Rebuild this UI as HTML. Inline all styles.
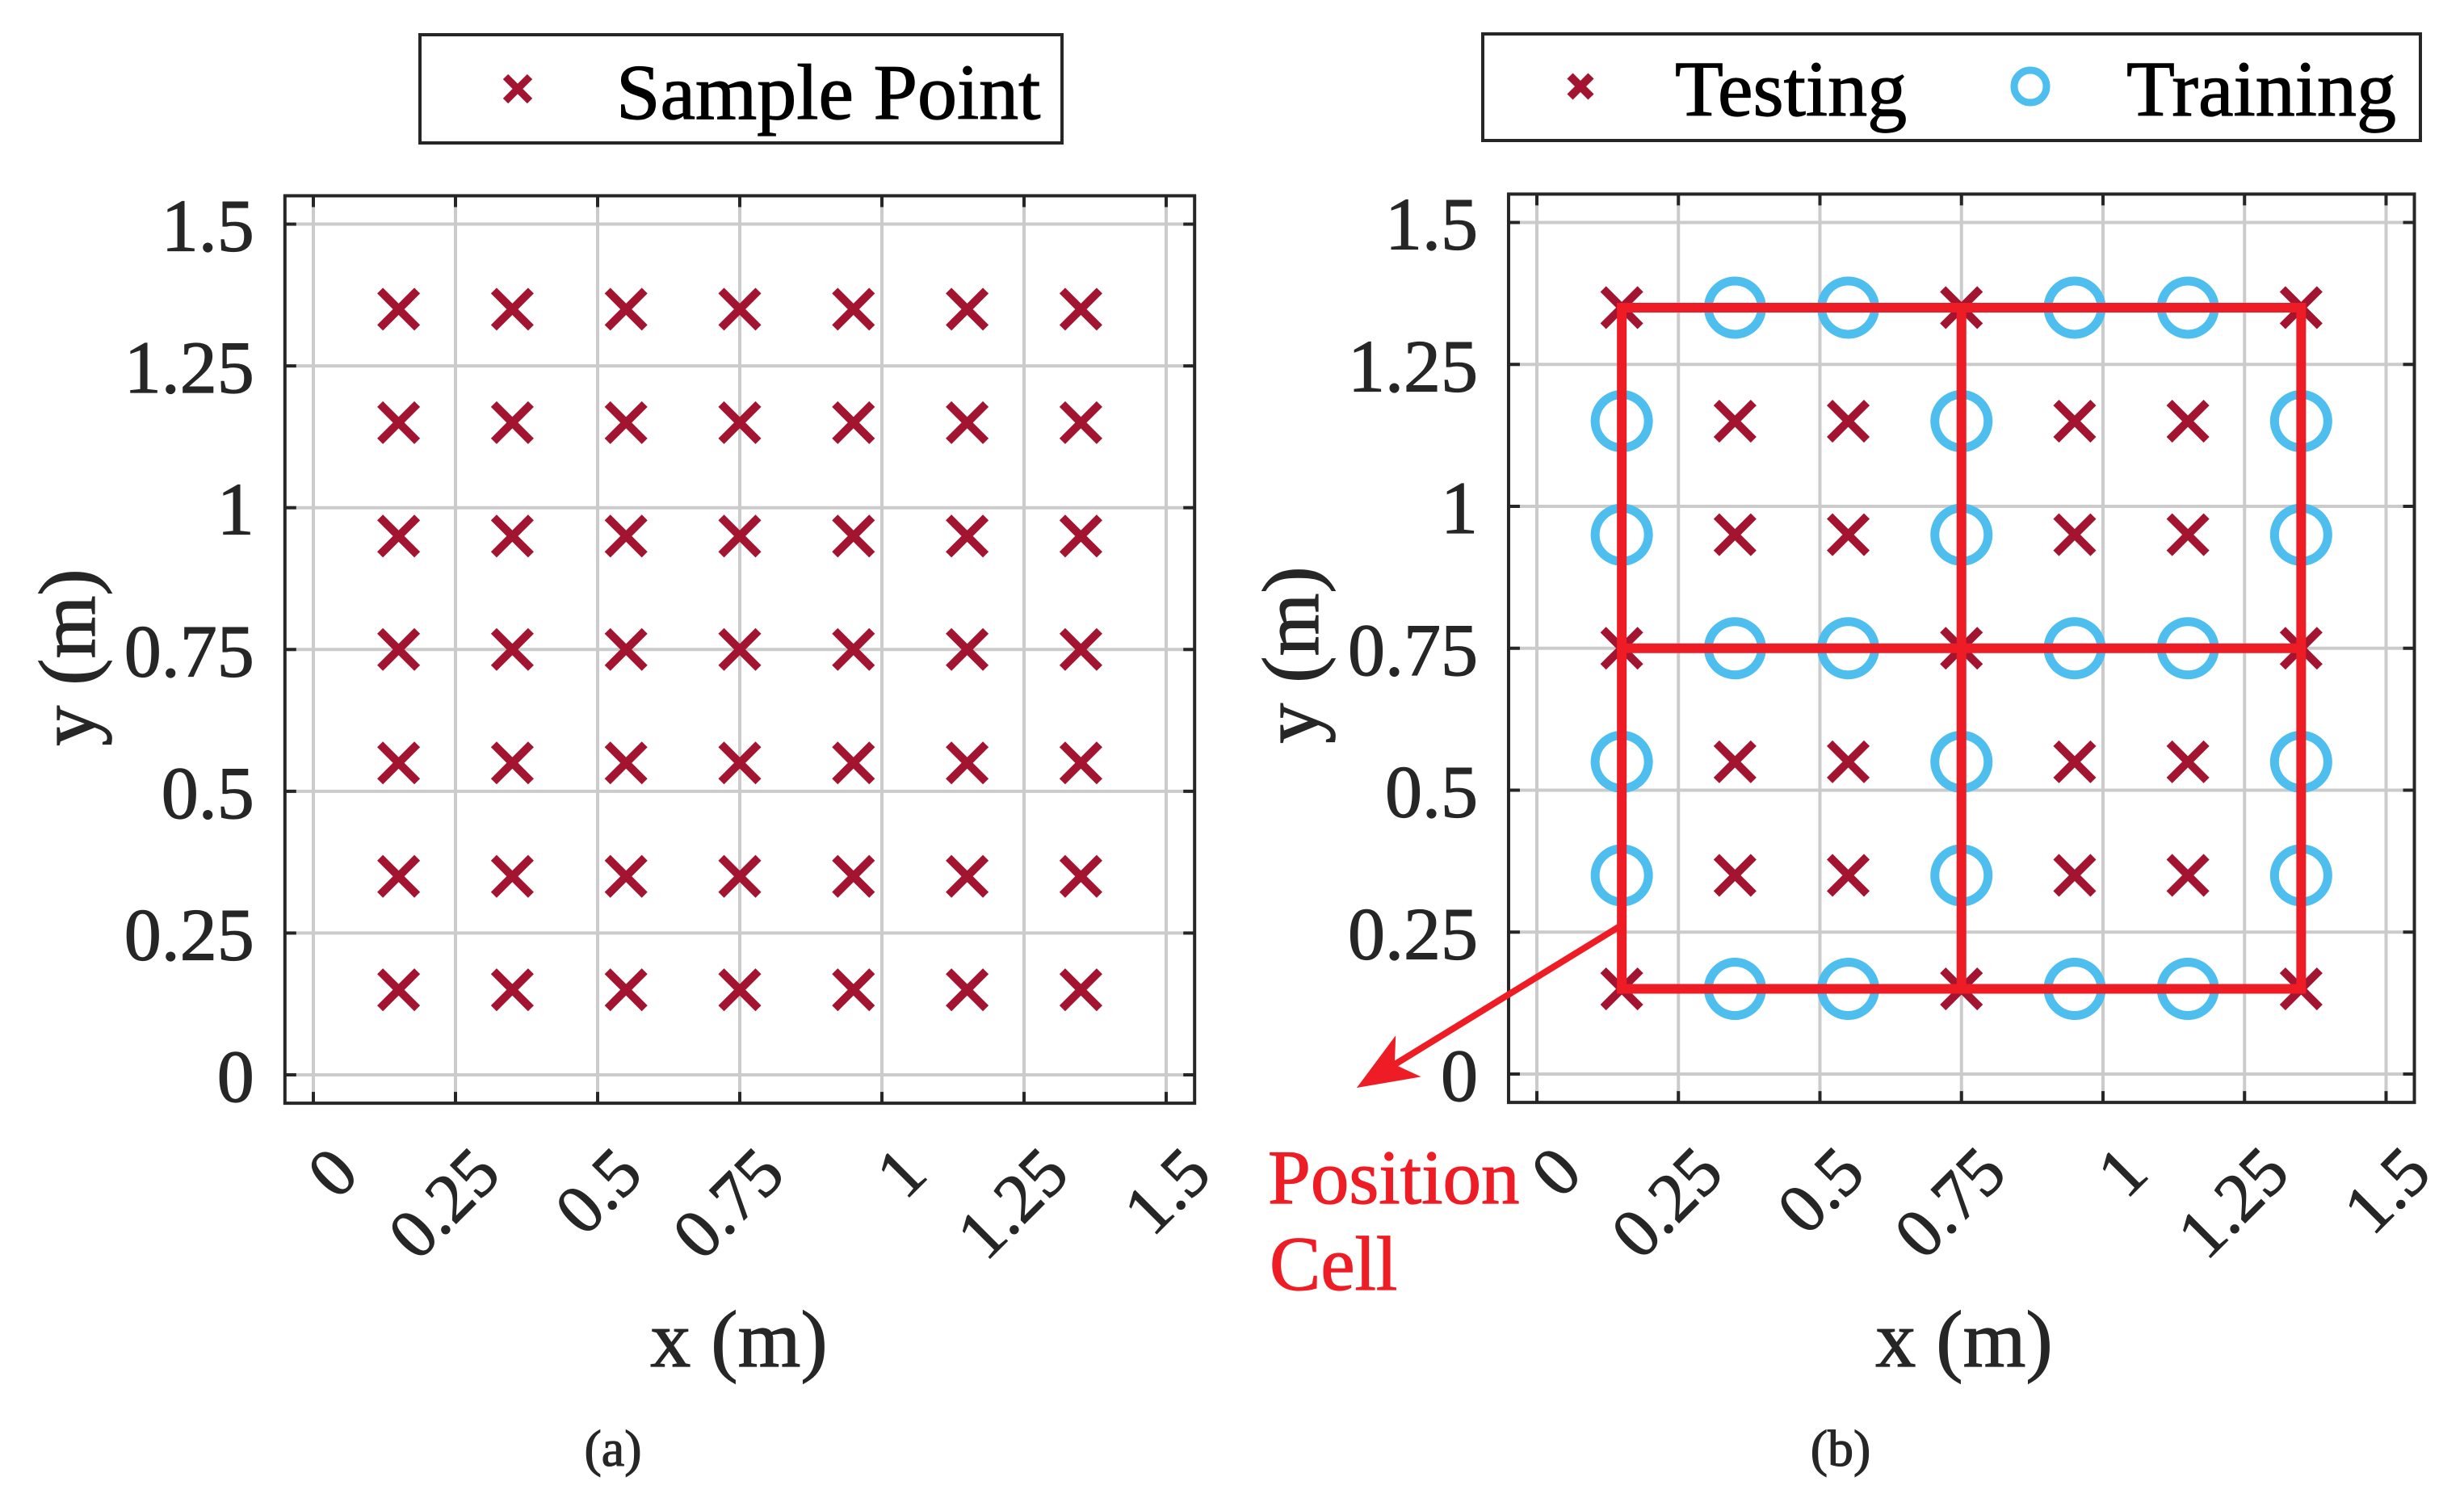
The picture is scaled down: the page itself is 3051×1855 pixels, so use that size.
<!DOCTYPE html>
<html>
<head>
<meta charset="utf-8">
<style>
  html,body{margin:0;padding:0;background:#fff;}
  svg{display:block;}
  text{font-family:"Liberation Serif","Times New Roman",serif;stroke-width:1.2px;}
</style>
</head>
<body>
<svg id="fig" width="3051" height="1855" viewBox="0 0 3051 1855" xmlns="http://www.w3.org/2000/svg"></svg>
<script>
// ---- data ----
const tickValues = [0, 0.25, 0.5, 0.75, 1, 1.25, 1.5];
const tickLabels = ["0", "0.25", "0.5", "0.75", "1", "1.25", "1.5"];
const gridX = [0.15, 0.35, 0.55, 0.75, 0.95, 1.15, 1.35];
const gridY = [0.15, 0.35, 0.55, 0.75, 0.95, 1.15, 1.35];
// panel (b) pattern, rows from top (y=1.35) to bottom (y=0.15): x = testing, o = training
const patternB = [
  "xooxoox",
  "oxxoxxo",
  "oxxoxxo",
  "xooxoox",
  "oxxoxxo",
  "oxxoxxo",
  "xooxoox"
];
const cellX = [0.15, 0.75, 1.35];
const cellY = [0.15, 0.75, 1.35];

const NS = "http://www.w3.org/2000/svg";
const svg = document.getElementById("fig");
function mk(tag, attrs, parent) {
  const e = document.createElementNS(NS, tag);
  for (const k in attrs) e.setAttribute(k, attrs[k]);
  (parent || svg).appendChild(e);
  return e;
}
const AX = "#262626", GRID = "#cbcbcb", CROSS = "#A2142F", CIRC = "#4DBEEE", RED = "#EE1C25";

function makeAxes(p, id) {
  const g = mk("g", {});
  
  
  const sx = v => p.x0 + (v) * p.kx;
  const sy = v => p.y0 - (v) * p.ky;
  const L = sx(-0.05), R = sx(1.55), T = sy(1.55), B = sy(-0.05);
  tickValues.forEach(v => {
    const gl = mk("line", {x1: sx(v), x2: sx(v), y1: T, y2: B, stroke: GRID, "stroke-width": 4}, g);
    
    
    const gh = mk("line", {x1: L, x2: R, y1: sy(v), y2: sy(v), stroke: GRID, "stroke-width": 4}, g);
    
    
  });
  return {g, sx, sy, L, R, T, B};
}
function finishAxes(A, id, p) {
  const {g, sx, sy, L, R, T, B} = A;
  const fr = mk("rect", {x: L, y: T, width: R - L, height: B - T, fill: "none", stroke: AX, "stroke-width": 4}, svg);
  
  
  tickValues.forEach((v, i) => {
    const x = sx(v), y = sy(v);
    [[x, B, x, B - 14], [x, T, x, T + 14], [L, y, L + 14, y], [R, y, R - 14, y]].forEach(c => {
      const t = mk("line", {x1: c[0], y1: c[1], x2: c[2], y2: c[3], stroke: AX, "stroke-width": 4}, svg);
      
      
    });
    const yl = mk("text", {x: L - 38, y: y + 33, "text-anchor": "end", "font-size": 92, fill: AX, stroke: AX}, svg);
    yl.textContent = tickLabels[i];
    
    
    const ax = x + 59, ay = B + 91;
    const xl = mk("text", {x: ax, y: ay, "text-anchor": "end", "font-size": 86, fill: AX, stroke: AX, transform: `rotate(-45 ${ax} ${ay})`}, svg);
    xl.textContent = tickLabels[i];
    
    
  });
  const xt = mk("text", {x: p.xlabX, y: 1692, "text-anchor": "middle", "font-size": 100, fill: AX, stroke: AX}, svg);
  xt.textContent = "x (m)";
  
  
  const yt = mk("text", {x: p.ylabX, y: p.ylabY, "text-anchor": "middle", "font-size": 100, fill: AX, stroke: AX, transform: `rotate(-90 ${p.ylabX} ${p.ylabY})`}, svg);
  yt.textContent = "y (m)";
  
  
  const cap = mk("text", {x: p.capX, y: 1815, "text-anchor": "middle", "font-size": 64, fill: AX, stroke: AX}, svg);
  cap.textContent = "(" + id + ")";
  
  
}
function cross(x, y, h, sw, parent, name) {
  const c = mk("path", {d: `M${x-h},${y-h}L${x+h},${y+h}M${x-h},${y+h}L${x+h},${y-h}`, stroke: CROSS, "stroke-width": sw, fill: "none"}, parent);
  
  
  return c;
}
function circ(x, y, r, sw, parent, name) {
  const c = mk("circle", {cx: x, cy: y, r: r, stroke: CIRC, "stroke-width": sw, fill: "none"}, parent);
  
  
  return c;
}

// ---- panel (a) ----
const pA = {x0: 388, kx: 704, y0: 1331, ky: 702.3, xlabX: 915, ylabX: 117, ylabY: 814, capX: 759};
const A = makeAxes(pA, "a");
gridY.forEach(yv => gridX.forEach(xv => {
  cross(A.sx(xv), A.sy(yv), 23, 10, A.g, 'sample-point');
}));
finishAxes(A, "a", pA);

const lgA = mk("g", {});


mk("rect", {x: 520, y: 43, width: 795, height: 134, fill: "#fff", stroke: AX, "stroke-width": 4}, lgA);
cross(641, 110, 15, 9, lgA, 'legend-marker-sample');
const ltA = mk("text", {x: 763, y: 147, "font-size": 98, fill: "#000", stroke: "#000"}, lgA);
ltA.textContent = "Sample Point";



// ---- panel (b) ----
const pB = {x0: 1903, kx: 701, y0: 1330, ky: 703, xlabX: 2432, ylabX: 1632, ylabY: 811, capX: 2279};
const Bx = makeAxes(pB, "b");
patternB.forEach((row, ri) => {
  const yv = gridY[gridY.length - 1 - ri];
  row.split("").forEach((ch, ci) => {
    const xv = gridX[ci];
    if (ch === "x") cross(Bx.sx(xv), Bx.sy(yv), 23, 10, Bx.g, 'testing-point');
    else circ(Bx.sx(xv), Bx.sy(yv), 33, 11, Bx.g, 'training-point');
  });
});
cellX.forEach(xv => {
  const l = mk("line", {x1: Bx.sx(xv), x2: Bx.sx(xv), y1: Bx.sy(cellY[0]) + 6, y2: Bx.sy(cellY[cellY.length - 1]) - 6, stroke: RED, "stroke-width": 12}, Bx.g);
  
  
});
cellY.forEach(yv => {
  const l = mk("line", {x1: Bx.sx(cellX[0]) - 6, x2: Bx.sx(cellX[cellX.length - 1]) + 6, y1: Bx.sy(yv), y2: Bx.sy(yv), stroke: RED, "stroke-width": 12}, Bx.g);
  
  
});
finishAxes(Bx, "b", pB);

(function () {
  const sx0 = 2009, sy0 = 1145, tx = 1680, ty = 1347;
  const dx = tx - sx0, dy = ty - sy0, len = Math.hypot(dx, dy);
  const ux = dx / len, uy = dy / len, nx = -uy, ny = ux;
  const ar = mk("g", {});
  
  
  mk("line", {x1: sx0, y1: sy0, x2: tx - 50 * ux, y2: ty - 50 * uy, stroke: RED, "stroke-width": 8}, ar);
  const Lh = 75, W = 30, N = 55;
  const pts = [[tx, ty], [tx - Lh * ux + W * nx, ty - Lh * uy + W * ny], [tx - N * ux, ty - N * uy], [tx - Lh * ux - W * nx, ty - Lh * uy - W * ny]];
  mk("polygon", {points: pts.map(p => p.join(",")).join(" "), fill: RED}, ar);
  const t1 = mk("text", {x: 1570, y: 1490, "font-size": 95, fill: RED, stroke: RED}, ar);
  t1.textContent = "Position";
  
  
  const t2 = mk("text", {x: 1572, y: 1597, "font-size": 95, fill: RED, stroke: RED}, ar);
  t2.textContent = "Cell";
  
  
})();

const lgB = mk("g", {});


mk("rect", {x: 1836, y: 42, width: 1161, height: 132, fill: "#fff", stroke: AX, "stroke-width": 4}, lgB);
cross(1957, 107, 13, 10, lgB, 'legend-marker-testing');
const ltB1 = mk("text", {x: 2074, y: 143, "font-size": 98, fill: "#000", stroke: "#000"}, lgB);
ltB1.textContent = "Testing";


circ(2514, 107, 20, 9, lgB, 'legend-marker-training');
const ltB2 = mk("text", {x: 2633, y: 143, "font-size": 98, fill: "#000", stroke: "#000"}, lgB);
ltB2.textContent = "Training";


</script>
</body>
</html>
